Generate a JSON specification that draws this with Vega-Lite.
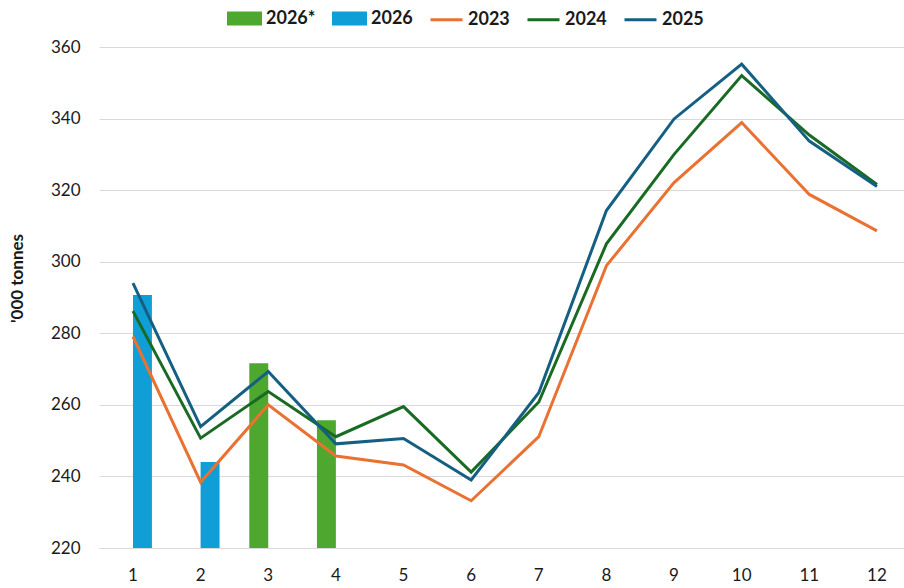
{
  "$schema": "https://vega.github.io/schema/vega-lite/v6.json",
  "width": 805,
  "height": 501,
  "autosize": {"type": "none"},
  "padding": {"left": 99, "top": 47, "right": 0, "bottom": 40},
  "background": "white",
  "config": {
    "view": {"stroke": null},
    "font": "Lato",
    "axis": {"labelFont": "Lato", "titleFont": "Lato", "labelColor": "#1a1a1a", "titleColor": "#1a1a1a"}
  },
  "data": {
    "values": [
      {"month": 1, "series": "2026", "kind": "bar", "value": 290.7},
      {"month": 2, "series": "2026", "kind": "bar", "value": 244.0},
      {"month": 3, "series": "2026*", "kind": "bar", "value": 271.6},
      {"month": 4, "series": "2026*", "kind": "bar", "value": 255.7},
      {"month": 1, "series": "2023", "kind": "line", "value": 279.1},
      {"month": 2, "series": "2023", "kind": "line", "value": 238.4},
      {"month": 3, "series": "2023", "kind": "line", "value": 260.0},
      {"month": 4, "series": "2023", "kind": "line", "value": 245.7},
      {"month": 5, "series": "2023", "kind": "line", "value": 243.2},
      {"month": 6, "series": "2023", "kind": "line", "value": 233.2},
      {"month": 7, "series": "2023", "kind": "line", "value": 251.1},
      {"month": 8, "series": "2023", "kind": "line", "value": 298.9},
      {"month": 9, "series": "2023", "kind": "line", "value": 322.1},
      {"month": 10, "series": "2023", "kind": "line", "value": 338.9},
      {"month": 11, "series": "2023", "kind": "line", "value": 318.8},
      {"month": 12, "series": "2023", "kind": "line", "value": 308.6},
      {"month": 1, "series": "2024", "kind": "line", "value": 286.2},
      {"month": 2, "series": "2024", "kind": "line", "value": 250.7},
      {"month": 3, "series": "2024", "kind": "line", "value": 263.7},
      {"month": 4, "series": "2024", "kind": "line", "value": 251.1},
      {"month": 5, "series": "2024", "kind": "line", "value": 259.5},
      {"month": 6, "series": "2024", "kind": "line", "value": 241.2},
      {"month": 7, "series": "2024", "kind": "line", "value": 260.8},
      {"month": 8, "series": "2024", "kind": "line", "value": 305.0},
      {"month": 9, "series": "2024", "kind": "line", "value": 330.0},
      {"month": 10, "series": "2024", "kind": "line", "value": 352.0},
      {"month": 11, "series": "2024", "kind": "line", "value": 335.4},
      {"month": 12, "series": "2024", "kind": "line", "value": 321.6},
      {"month": 1, "series": "2025", "kind": "line", "value": 294.0},
      {"month": 2, "series": "2025", "kind": "line", "value": 253.9},
      {"month": 3, "series": "2025", "kind": "line", "value": 269.3},
      {"month": 4, "series": "2025", "kind": "line", "value": 249.1},
      {"month": 5, "series": "2025", "kind": "line", "value": 250.6},
      {"month": 6, "series": "2025", "kind": "line", "value": 239.0},
      {"month": 7, "series": "2025", "kind": "line", "value": 263.4},
      {"month": 8, "series": "2025", "kind": "line", "value": 314.3},
      {"month": 9, "series": "2025", "kind": "line", "value": 339.9},
      {"month": 10, "series": "2025", "kind": "line", "value": 355.2},
      {"month": 11, "series": "2025", "kind": "line", "value": 333.7},
      {"month": 12, "series": "2025", "kind": "line", "value": 321.0}
    ]
  },
  "encoding": {
    "x": {
      "field": "month",
      "type": "ordinal",
      "scale": {"type": "band", "paddingInner": 0.44, "paddingOuter": 0.171, "align": 0.65},
      "axis": {
        "title": null,
        "labelAngle": 0,
        "labelFontSize": 17,
        "labelPadding": 19,
        "ticks": false,
        "tickSize": 0,
        "grid": false,
        "domainColor": "#D9D9D9",
        "domainWidth": 1
      }
    },
    "y": {
      "field": "value",
      "type": "quantitative",
      "scale": {"domain": [220, 360], "zero": false, "nice": false},
      "axis": {
        "title": "'000 tonnes",
        "values": [220, 240, 260, 280, 300, 320, 340, 360],
        "labelFontSize": 17,
        "labelPadding": 19,
        "ticks": false,
        "tickSize": 0,
        "domain": false,
        "gridColor": "#D9D9D9",
        "gridWidth": 1,
        "titleFontSize": 17,
        "titleFontWeight": "bold",
        "titleAngle": 270,
        "titleBaseline": "middle",
        "titleAlign": "center",
        "titleX": -82,
        "titleY": 231
      }
    },
    "color": {
      "field": "series",
      "type": "nominal",
      "scale": {
        "domain": ["2026*", "2026", "2023", "2024", "2025"],
        "range": ["#4EA72E", "#0F9ED5", "#E97132", "#196B24", "#156082"]
      },
      "legend": {
        "orient": "none",
        "legendX": 128,
        "legendY": -46,
        "direction": "horizontal",
        "title": null,
        "labelFont": "Lato",
        "labelFontSize": 18,
        "labelFontWeight": "bold",
        "labelColor": "#1a1a1a",
        "labelOffset": 4,
        "columnPadding": 11,
        "symbolSize": 1024,
        "symbolStrokeWidth": 3,
        "encode": {
          "symbols": {
            "update": {
              "shape": {"signal": "(datum.value === '2026*' || datum.value === '2026') ? 'M-1,-0.34H1V0.34H-1Z' : 'stroke'"},
              "fill": {"signal": "(datum.value === '2026*' || datum.value === '2026') ? scale('color', datum.value) : 'transparent'"},
              "stroke": {"signal": "(datum.value === '2026*' || datum.value === '2026') ? 'transparent' : scale('color', datum.value)"},
              "strokeWidth": {"value": 3},
              "opacity": {"value": 1}
            }
          }
        }
      }
    }
  },
  "layer": [
    {
      "transform": [{"filter": "datum.kind === 'bar'"}],
      "mark": {"type": "bar"},
      "encoding": {
        "xOffset": {
          "field": "series",
          "type": "nominal",
          "scale": {"domain": ["2026*", "2026"], "paddingInner": 0, "paddingOuter": 0}
        },
        "y2": {"datum": 220}
      }
    },
    {
      "transform": [{"filter": "datum.kind === 'line'"}],
      "mark": {"type": "line", "strokeWidth": 3}
    }
  ]
}
